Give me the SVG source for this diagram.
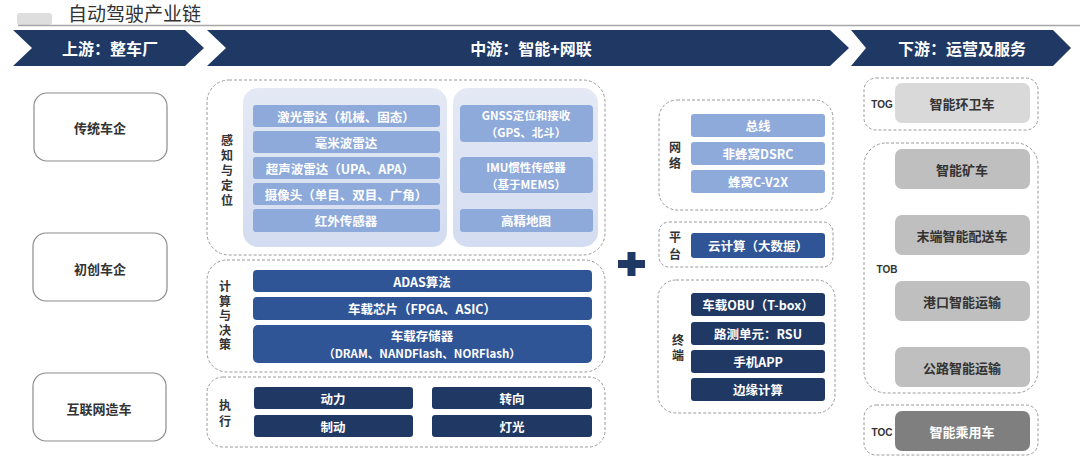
<svg xmlns="http://www.w3.org/2000/svg" width="1080" height="471" viewBox="0 0 1080 471">
<defs>
<linearGradient id="panelGrad" x1="0" y1="0" x2="0" y2="1">
<stop offset="0" stop-color="#e4e9f5"/>
<stop offset="1" stop-color="#d3dcf0"/>
</linearGradient>
</defs>
<style>
text{font-family:"Noto Sans CJK SC","Noto Sans",sans-serif;}
.chev{fill:#1f3864;}
.chevt{fill:#ffffff;font-size:16px;font-weight:bold;text-anchor:middle;dominant-baseline:central;}
.left{fill:#ffffff;stroke:#8c8c8c;stroke-width:1.2;}
.lt{fill:#333333;font-size:13px;font-weight:bold;text-anchor:middle;dominant-baseline:central;}
.grp{fill:#ffffff;stroke:#9a9a9a;stroke-width:1;stroke-dasharray:3 2;}
.panel{fill:url(#panelGrad);}
.lb{fill:#8eaadb;}
.mb{fill:#2f5597;}
.db{fill:#203864;}
.it{fill:#ffffff;font-size:12.5px;font-weight:bold;text-anchor:middle;dominant-baseline:central;}
.it2{fill:#ffffff;font-size:11.5px;font-weight:bold;text-anchor:middle;dominant-baseline:central;}
.vl{fill:#333333;font-size:12px;font-weight:bold;text-anchor:middle;writing-mode:vertical-rl;}
.g1{fill:#d9d9d9;}
.g2{fill:#bfbfbf;}
.g3{fill:#7f7f7f;}
.gt{fill:#333333;font-size:13px;font-weight:bold;text-anchor:middle;dominant-baseline:central;}
.gw{fill:#ffffff;font-size:13px;font-weight:bold;text-anchor:middle;dominant-baseline:central;}
.tl{fill:#333333;font-size:10px;font-weight:bold;text-anchor:middle;dominant-baseline:central;font-family:"Liberation Sans",Arial,sans-serif;}
</style>
<rect width="1080" height="471" fill="#ffffff"/>

<g id="title">
<rect x="17" y="13" width="35" height="12" rx="3" fill="#dedede"/>
<line x1="18" y1="25.5" x2="1080" y2="25.5" stroke="#a6a6a6" stroke-width="1.5"/>
<text x="68" y="21" font-size="19" fill="#333333">自动驾驶产业链</text>
</g>

<g id="chevron-upstream">
<path class="chev" d="M13,30 L185,30 L204,48 L185,66 L13,66 L32,48 Z"/>
<text class="chevt" x="110" y="48">上游：整车厂</text>
</g>
<g id="chevron-midstream">
<path class="chev" d="M207,30 L830,30 L849,48 L830,66 L207,66 L226,48 Z"/>
<text class="chevt" x="531" y="48">中游：智能+网联</text>
</g>
<g id="chevron-downstream">
<path class="chev" d="M851,30 L1053,30 L1071,48 L1053,66 L851,66 L866,48 Z"/>
<text class="chevt" x="962" y="48">下游：运营及服务</text>
</g>

<g id="node-traditional">
<rect class="left" x="34" y="93" width="133" height="68" rx="13"/>
<text class="lt" x="100" y="127">传统车企</text>
</g>
<g id="node-startup">
<rect class="left" x="33" y="233" width="134" height="68" rx="13"/>
<text class="lt" x="100" y="268">初创车企</text>
</g>
<g id="node-internet">
<rect class="left" x="33" y="373" width="133" height="68" rx="13"/>
<text class="lt" x="99" y="408">互联网造车</text>
</g>

<g id="group-perception">
<rect class="grp" x="207" y="80" width="398" height="175" rx="22"/>
<text class="vl" x="227" y="171.5" letter-spacing="3">感知与定位</text>
<rect class="panel" x="243" y="88" width="204" height="159" rx="15"/>
<rect class="panel" x="453" y="88" width="145" height="159" rx="15"/>
<rect class="lb" x="253" y="105" width="187" height="22" rx="3"/>
<text class="it" x="346" y="116">激光雷达（机械、固态）</text>
<rect class="lb" x="253" y="131" width="187" height="22" rx="3"/>
<text class="it" x="346" y="142">毫米波雷达</text>
<rect class="lb" x="253" y="157" width="187" height="22" rx="3"/>
<text class="it" x="340" y="168">超声波雷达（UPA、APA）</text>
<rect class="lb" x="253" y="183" width="187" height="22" rx="3"/>
<text class="it" x="346" y="194">摄像头（单目、双目、广角）</text>
<rect class="lb" x="253" y="209" width="187" height="23" rx="3"/>
<text class="it" x="346" y="220.5">红外传感器</text>
<rect class="lb" x="460" y="105" width="133" height="37" rx="4"/>
<text class="it2" x="526" y="115">GNSS定位和接收</text>
<text class="it2" x="526" y="132">（GPS、北斗）</text>
<rect class="lb" x="460" y="157" width="133" height="36" rx="4"/>
<text class="it2" x="526" y="166.5">IMU惯性传感器</text>
<text class="it2" x="526" y="183.5">（基于MEMS）</text>
<rect class="lb" x="460" y="209" width="133" height="23" rx="3"/>
<text class="it" x="526" y="220.5">高精地图</text>
</g>

<g id="group-compute">
<rect class="grp" x="207" y="260" width="398" height="112" rx="20"/>
<text class="vl" x="225" y="317" letter-spacing="2.5">计算与决策</text>
<rect class="mb" x="253" y="270" width="339" height="22" rx="4"/>
<text class="it" x="422" y="281">ADAS算法</text>
<rect class="mb" x="253" y="297" width="339" height="23" rx="4"/>
<text class="it" x="422" y="308.5">车载芯片（FPGA、ASIC）</text>
<rect class="mb" x="253" y="325" width="339" height="38" rx="5"/>
<text class="it2" x="422" y="335" style="font-size:12.5px">车载存储器</text>
<text class="it2" x="422" y="353">（DRAM、NANDFlash、NORFlash）</text>
</g>

<g id="group-execute">
<rect class="grp" x="207" y="377" width="398" height="70" rx="16"/>
<text class="vl" x="225" y="415" letter-spacing="4">执行</text>
<rect class="db" x="254" y="387" width="159" height="22" rx="3"/>
<text class="it" x="333" y="398">动力</text>
<rect class="db" x="432" y="387" width="160" height="22" rx="3"/>
<text class="it" x="512" y="398">转向</text>
<rect class="db" x="254" y="415" width="159" height="22" rx="3"/>
<text class="it" x="333" y="426">制动</text>
<rect class="db" x="432" y="415" width="160" height="22" rx="3"/>
<text class="it" x="512" y="426">灯光</text>
</g>

<g id="plus">
<rect class="chev" x="618" y="260" width="27" height="8"/>
<rect class="chev" x="627.5" y="252" width="8" height="24"/>
</g>

<g id="group-network">
<rect class="grp" x="659" y="100" width="174" height="110" rx="18"/>
<text class="vl" x="675" y="157" letter-spacing="4">网络</text>
<rect class="lb" x="691" y="114" width="134" height="23" rx="3"/>
<text class="it" x="758" y="125.5">总线</text>
<rect class="lb" x="691" y="142" width="134" height="23" rx="3"/>
<text class="it" x="758" y="153.5">非蜂窝DSRC</text>
<rect class="lb" x="691" y="170" width="134" height="23" rx="3"/>
<text class="it" x="758" y="181.5">蜂窝C-V2X</text>
</g>

<g id="group-platform">
<rect class="grp" x="659" y="222" width="174" height="45" rx="10"/>
<text class="vl" x="675" y="248" letter-spacing="5">平台</text>
<rect class="mb" x="691" y="233" width="134" height="25" rx="3"/>
<text class="it" x="758" y="245.5">云计算（大数据）</text>
</g>

<g id="group-terminal">
<rect class="grp" x="658" y="280" width="177" height="133" rx="18"/>
<text class="vl" x="678" y="349" letter-spacing="3">终端</text>
<rect class="db" x="691" y="293" width="134" height="23" rx="3"/>
<text class="it" x="758" y="304.5">车载OBU（T-box）</text>
<rect class="db" x="691" y="322" width="134" height="23" rx="3"/>
<text class="it" x="758" y="333.5">路测单元：RSU</text>
<rect class="db" x="691" y="350" width="134" height="23" rx="3"/>
<text class="it" x="758" y="361.5">手机APP</text>
<rect class="db" x="691" y="378" width="134" height="23" rx="3"/>
<text class="it" x="758" y="389.5">边缘计算</text>
</g>

<g id="group-tog">
<rect class="grp" x="864" y="78" width="174" height="52" rx="12"/>
<text class="tl" x="882" y="104">TOG</text>
<rect class="g1" x="895" y="83" width="135" height="40" rx="7"/>
<text class="gt" x="962" y="103">智能环卫车</text>
</g>

<g id="group-tob">
<rect class="grp" x="864" y="143" width="174" height="250" rx="22"/>
<text class="tl" x="887" y="269">TOB</text>
<rect class="g2" x="895" y="149" width="135" height="40" rx="7"/>
<text class="gt" x="962" y="169">智能矿车</text>
<rect class="g2" x="895" y="215" width="135" height="40" rx="7"/>
<text class="gt" x="962" y="235">末端智能配送车</text>
<rect class="g2" x="895" y="281" width="135" height="40" rx="7"/>
<text class="gt" x="962" y="301">港口智能运输</text>
<rect class="g2" x="895" y="347" width="135" height="40" rx="7"/>
<text class="gt" x="962" y="367">公路智能运输</text>
</g>

<g id="group-toc">
<rect class="grp" x="864" y="405" width="174" height="50" rx="12"/>
<text class="tl" x="882" y="432">TOC</text>
<rect class="g3" x="895" y="411" width="135" height="40" rx="7"/>
<text class="gw" x="962" y="431">智能乘用车</text>
</g>

<g id="connectors"></g>
</svg>
